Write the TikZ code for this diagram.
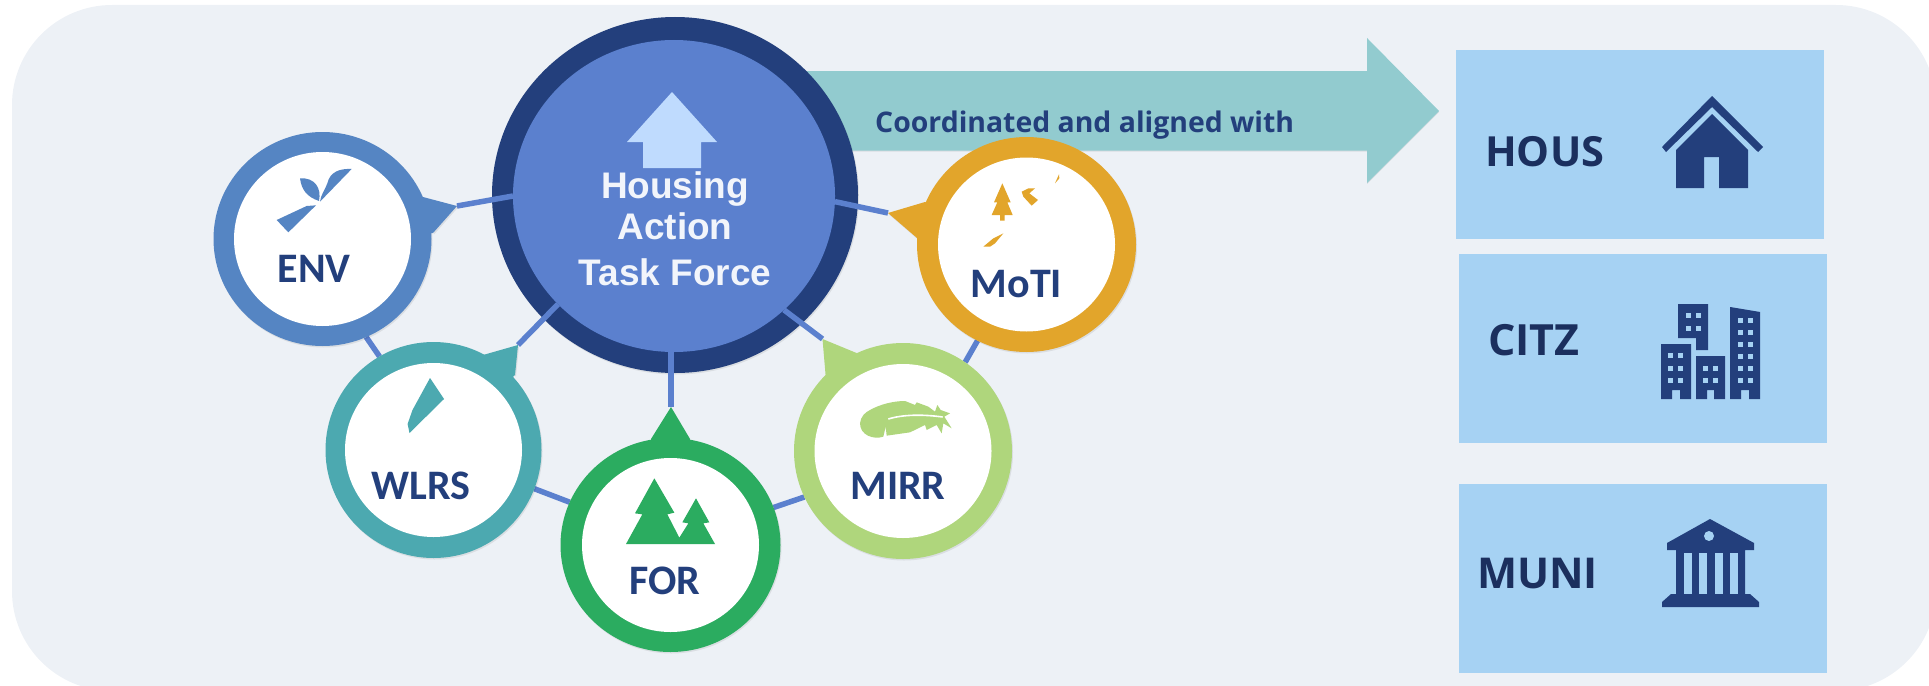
\documentclass[tikz,border=0pt]{standalone}
\usepackage{fontspec}
\setmainfont{Liberation Sans}
\newfontfamily\opensans{Open Sans}
\newfontfamily\carlito{Carlito}
\usetikzlibrary{shapes.geometric}
\definecolor{bgc}{HTML}{EDF1F6}
\definecolor{navy}{HTML}{233F7C}
\definecolor{midblue}{HTML}{5B80CE}
\definecolor{envc}{HTML}{5585C3}
\definecolor{wlrsc}{HTML}{4CA9B0}
\definecolor{forc}{HTML}{2BAC60}
\definecolor{mirrc}{HTML}{AFD67C}
\definecolor{motic}{HTML}{E2A52B}
\definecolor{arrowc}{HTML}{92CBCF}
\definecolor{boxc}{HTML}{A6D2F3}
\definecolor{darktext}{HTML}{1B2F5E}
\definecolor{houselt}{HTML}{BFDBFE}
\pgfdeclarelayer{under}
\pgfdeclarelayer{conn}
\pgfsetlayers{under,conn,main}
\tikzset{
  x=1pt,y=-1pt,
  ell/.style={ellipse,inner sep=0pt,outer sep=0pt,draw=none},
  link/.style={draw=midblue,line width=5.5pt},
  softshadow/.style={fill=black,opacity=.08},
  minlabel/.style={anchor=base,inner sep=0pt,text=navy,font=\carlito\bfseries\fontsize{42}{46}\selectfont},
  sidelabel/.style={anchor=base west,inner sep=0pt,text=darktext},
  sidebox/.style={rectangle,fill=boxc,inner sep=0pt,outer sep=0pt,minimum width=368pt,minimum height=189pt},
}
\newcommand\bubble[8]{%
  \fill[softshadow,shift={(1,1.5)}] (#3) ellipse [x radius=#4,y radius=#5];
  \fill[softshadow,shift={(1,1.5)}] (#6) -- (#7) -- (#8) -- cycle;
  \node[ell,fill=#2,minimum width={2*#4pt},minimum height={2*#5pt}] (#1) at (#3) {};
  \coordinate (#1tip) at (#6);
  \fill[#2] (#1tip) -- (#7) -- (#3) -- (#8) -- cycle;
  \node[ell,fill=white,minimum width=177pt,minimum height=174pt] (#1in) at (#3) {};
}
\begin{document}
\begin{tikzpicture}
\useasboundingbox (0,0) rectangle (1929,685);
\clip (0,0) rectangle (1929,685);
\begin{pgfonlayer}{under}
  \fill[bgc,rounded corners=100pt] (12,5) rectangle (1936,691);
  \fill[softshadow,shift={(0,1.2)}] (780,71) -- (1367,71) -- (1367,38) -- (1439,111) -- (1367,183) -- (1367,150.5) -- (780,150.5) -- cycle;
  \fill[arrowc] (780,71) -- (1367,71) -- (1367,38) -- (1439,111) -- (1367,183) -- (1367,150.5) -- (780,150.5) -- cycle;
  \fill[softshadow,shift={(1,1.5)}] (675,195) ellipse [x radius=183,y radius=178];
  \node[ell,fill=navy,minimum width=366pt,minimum height=356pt] (hatf) at (675,195) {};
\end{pgfonlayer}
\node[anchor=base west,inner sep=0pt,text=navy,font=\opensans\bfseries\fontsize{28.4}{32}\selectfont] (coord) at (875,132) {Coordinated and aligned with};

% centre
\node[ell,fill=midblue,minimum width=322pt,minimum height=312pt] (hatfin) at (674,196) {};
\fill[houselt] (672,92) -- (717,142) -- (701,142) -- (701,168) -- (643,168) -- (643,142) -- (627,142) -- cycle;
\node[inner sep=0pt,align=center,text=white!92!midblue,font=\bfseries\fontsize{37}{42}\selectfont,anchor=base] (hatft) at (675,285) {Housing\\[-1pt]Action\\[3.5pt]Task Force};

% bubbles
\bubble{env}{envc}{322.5,239}{109}{107}{457,206}{423,197}{433,233}
\bubble{wlrs}{wlrsc}{433.5,450}{108}{108}{518,345}{483,355}{515,375}
\bubble{for}{forc}{670.5,545}{110}{107}{671,407}{651,439}{690,439}
\bubble{mirr}{mirrc}{903,451}{109}{108}{822.5,339}{856.5,353}{826,380}
\bubble{moti}{motic}{1026.5,244.5}{109.5}{107.5}{888,213}{925,202}{917,238}

\begin{pgfonlayer}{conn}
  \draw[link] (envtip) -- (hatfin.180);
  \draw[link] (wlrstip) -- (hatfin.223);
  \draw[link] (fortip) -- (fortip |- hatfin.south);
  \draw[link] (mirrtip) -- (hatfin.-46);
  \draw[link] (motitip) -- (hatfin.-2.5);
  \draw[link] (env.-66) -- (wlrs.120);
  \draw[link] (wlrs.-21) -- (for.157);
  \draw[link] (for.20.6) -- (mirr.205);
  \draw[link] (mirr.55) -- (moti.243);
\end{pgfonlayer}

\node[minlabel] (envt) at (314,282) {ENV};
\node[minlabel] (wlrst) at (421,499) {WLRS};
\node[minlabel] (fort) at (665,594) {FOR};
\node[minlabel] (mirrt) at (898,499) {MIRR};
\node[minlabel] (motit) at (1016.5,297) {MoTI};

% ENV icon
\begin{scope}[shift={(190,100)},scale=1/3]
  \fill[envc] (260,360) -- (350,318) -- (378,316) -- (295,397) -- cycle;
  \fill[envc] (390,305) -- (485,207) .. controls (450,205) and (420,215) .. (412,250) .. controls (405,270) and (392,285) .. (390,305) -- cycle;
  \fill[envc] (387,303) .. controls (395,265) and (375,232) .. (330,235) .. controls (335,270) and (350,290) .. (387,303) -- cycle;
\end{scope}
% WLRS icon
\fill[wlrsc] (430,378) -- (444,399) -- (409.5,433) -- (407.6,424) -- (412.5,410) -- cycle;
% FOR icon
\begin{scope}[shift={(620,470)},scale=1/3]
  \fill[forc] (18,222) -- (67,133) -- (45,130) -- (103,25) -- (163,128) -- (142,133) -- (178,203) -- (205,160) -- (187,157) -- (228,85) -- (268,157) -- (250,160) -- (285,222) -- cycle;
\end{scope}
% MIRR icon
\begin{scope}[shift={(850,395)},scale=1/3]
  \fill[mirrc] (30,85) .. controls (32,65) and (45,52) .. (60,45) .. controls (90,28) and (130,18) .. (165,18) -- (195,30) -- (200,22) -- (235,35) -- (255,50) -- (262,30) -- (272,45) -- (300,55) -- (283,65) -- (305,100) -- (280,85) -- (275,115) -- (260,90) -- (230,105) -- (225,90) -- (180,112) -- (110,122) -- (107,95) -- (100,125) .. controls (70,135) and (30,120) .. (30,85) -- cycle;
  \draw[white,line width=1.6pt] (115,72) .. controls (160,58) and (220,58) .. (278,66);
\end{scope}
% MoTI icon
\begin{scope}[shift={(970,170)},scale=1/3]
  \fill[motic] (97,40) -- (122,97) -- (112,97) -- (128,135) -- (104,135) -- (104,152) -- (90,152) -- (90,135) -- (65,135) -- (82,97) -- (72,97) -- cycle;
  \fill[motic] (155,65) -- (175,55) -- (195,55) -- (178,70) -- (204,90) -- (185,107) -- (160,80) -- cycle;
  \fill[motic] (267,13) -- (268,25) -- (255,40) -- cycle;
  \fill[motic] (100,190) -- (75,220) -- (60,230) -- (40,230) -- (70,205) -- cycle;
\end{scope}

% side boxes
\node[sidebox,anchor=north west] (hous) at (1456,50) {};
\node[sidebox,anchor=north west] (citz) at (1459,254) {};
\node[sidebox,anchor=north west] (muni) at (1459,484) {};
\node[sidelabel,font=\opensans\bfseries\fontsize{41.5}{44}\selectfont] (houst) at (1485,166) {HOUS};
\node[sidelabel,font=\opensans\bfseries\fontsize{43}{46}\selectfont] (citzt) at (1488,355) {CITZ};
\node[sidelabel,font=\opensans\bfseries\fontsize{42.5}{46}\selectfont] (munit) at (1477,588) {MUNI};

% house icon
\fill[navy] (1712,96) -- (1763,147) -- (1758,152) -- (1712,107) -- (1666,152) -- (1662,147) -- cycle;
\fill[navy] (1712,114) -- (1748,150) -- (1748,188) -- (1719,188) -- (1719,157) -- (1704,157) -- (1704,188) -- (1676,188) -- (1676,150) -- cycle;
% city icon
\fill[navy] (1678,304) -- (1708,304) -- (1708,350) -- (1696,350) -- (1696,338) -- (1678,338) -- cycle;
\fill[navy] (1661,344) -- (1691,344) -- (1691,399) -- (1680,399) -- (1680,390) -- (1672,390) -- (1672,399) -- (1661,399) -- cycle;
\fill[navy] (1696,356) -- (1725,356) -- (1725,399) -- (1714,399) -- (1714,390) -- (1707,390) -- (1707,399) -- (1696,399) -- cycle;
\fill[navy] (1730,307) -- (1760,312) -- (1760,399) -- (1749,399) -- (1749,390) -- (1741,390) -- (1741,399) -- (1730,399) -- cycle;
\foreach \wx/\wy in {1686/313,1696/313,1686/326,1696/326,
  1668/353,1678/353,1668/366,1678/366,1668/378,1678/378,
  1703/366,1713/366,1703/378,1713/378,
  1738/318,1748/318,1738/330,1748/330,1738/342,1748/342,1738/354,1748/354,1738/366,1748/366,1738/378,1748/378}
  \fill[boxc] (\wx,\wy) rectangle ++(5,5);
% bank icon
\fill[navy] (1710,519) -- (1754,543) -- (1754,550) -- (1745,550) -- (1745,594) -- (1750,594) -- (1759,602) -- (1759,607) -- (1662,607) -- (1662,602) -- (1671,594) -- (1676,594) -- (1676,550) -- (1667,550) -- (1667,543) -- cycle;
\fill[boxc] (1709,536) circle [radius=5];
\foreach \gx in {1684,1699,1715,1730}
  \fill[boxc] (\gx,553) rectangle ++(7.5,41);
\end{tikzpicture}
\end{document}
